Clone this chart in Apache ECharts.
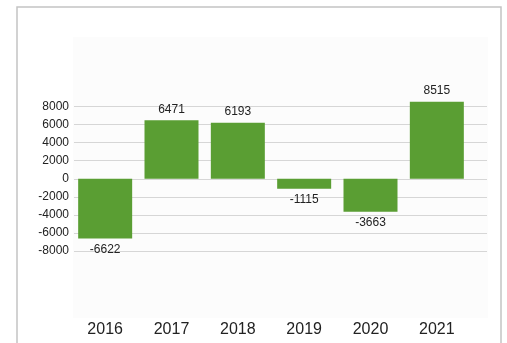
<!DOCTYPE html>
<html>
<head>
<meta charset="utf-8">
<script src="https://cdn.jsdelivr.net/npm/echarts@6/dist/echarts.min.js"></script>
<style>
  html, body { margin: 0; padding: 0; background: #fff; }
  #chart { width: 507px; height: 343px; }
</style>
</head>
<body>
<div id="chart"></div>
<script>
// data
const years = ['2016', '2017', '2018', '2019', '2020', '2021']
const values = [-6622, 6471, 6193, -1115, -3663, 8515]
const yMin = -8000
const yMax = 8000
const yStep = 2000

const textColor = '#222'
const font = 'Liberation Sans, Arial, sans-serif'

const myChart = echarts.init(document.getElementById('chart'))

const option = {
  animation: false,
  backgroundColor: '#fff',
  graphic: [
    {
      // outer frame (bottom edge lies below the window)
      type: 'rect',
      z: -10,
      shape: { x: 17, y: 7, width: 484, height: 400 },
      style: { fill: '#fff', stroke: '#c4c4c4', lineWidth: 1.5 }
    },
    {
      // faint plot panel
      type: 'rect',
      z: -9,
      shape: { x: 73, y: 37, width: 415, height: 281 },
      style: { fill: '#fcfcfc' }
    }
  ],
  grid: [
    // grid 0: gridlines + y labels
    { left: 74, right: 20, top: 106.5, bottom: 92, containLabel: false },
    // grid 1: bars + x labels
    { left: 72, right: 37, top: 106.5, bottom: 92, containLabel: false }
  ],
  xAxis: [
    {
      gridIndex: 0,
      type: 'category',
      data: years,
      show: false
    },
    {
      gridIndex: 1,
      type: 'category',
      data: years,
      axisLine: { show: false },
      axisTick: { show: false },
      axisLabel: {
        margin: 71,
        color: textColor,
        fontFamily: font,
        fontSize: 16
      }
    }
  ],
  yAxis: [
    {
      gridIndex: 0,
      type: 'value',
      min: yMin,
      max: yMax,
      interval: yStep,
      axisLine: { show: false },
      axisTick: { show: false },
      axisLabel: {
        margin: 5,
        color: textColor,
        fontFamily: font,
        fontSize: 12,
        formatter: v => String(v)
      },
      splitLine: {
        show: true,
        lineStyle: { color: '#d6d6d6', width: 1 }
      }
    },
    {
      gridIndex: 1,
      type: 'value',
      min: yMin,
      max: yMax,
      interval: yStep,
      show: false,
      splitLine: { show: false }
    }
  ],
  series: [
    {
      type: 'bar',
      xAxisIndex: 1,
      yAxisIndex: 1,
      barWidth: 54,
      clip: false,
      itemStyle: { color: '#5a9e33' },
      label: {
        show: true,
        color: textColor,
        fontFamily: font,
        fontSize: 12,
        distance: 5,
        position: 'top'
      },
      data: values.map(v => ({
        value: v,
        label: { position: v < 0 ? 'bottom' : 'top' }
      }))
    }
  ]
}

myChart.setOption(option)
</script>
</body>
</html>
